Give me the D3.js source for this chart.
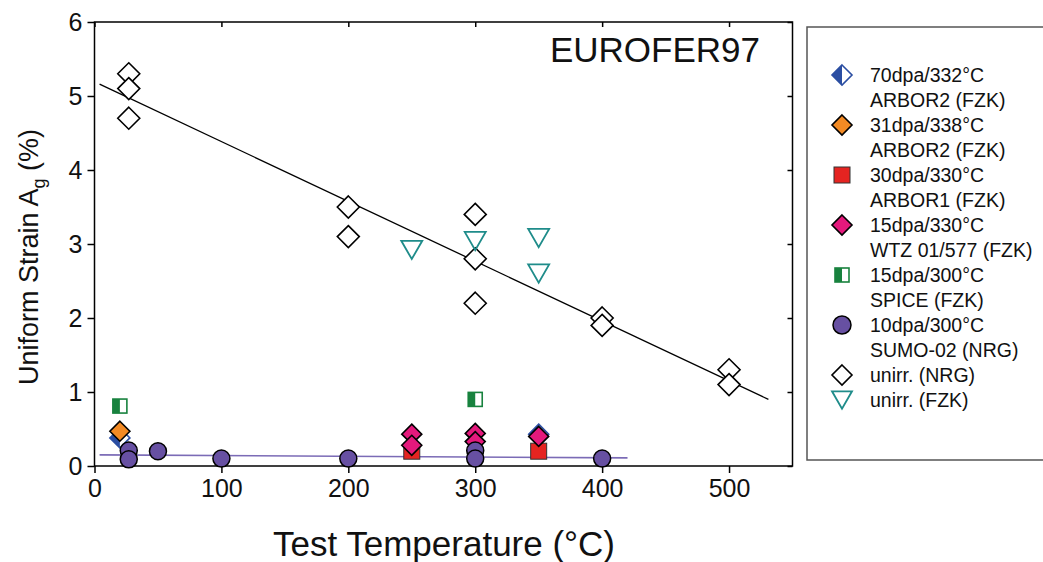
<!DOCTYPE html>
<html><head><meta charset="utf-8">
<script src="https://cdn.jsdelivr.net/npm/d3@7"></script>
<style>body{margin:0;background:#fff}svg{display:block}text{font-family:"Liberation Sans",Arial,sans-serif}</style>
</head><body><svg id="c" width="1043" height="562"></svg>
<script>
// ---- data ----
const xTicks = [0,100,200,300,400,500];
const yTicks = [0,1,2,3,4,5,6];
const nrgT = [27,27,27,200,200,300,300,300,400,400,500,500];
const nrgV = [5.3,5.1,4.7,3.5,3.1,3.4,2.8,2.2,2.0,1.9,1.3,1.1];
const fzkT = [250,300,350,350];
const fzkV = [2.92,3.04,3.08,2.6];
const blueT = [20,350];
const blueV = [0.38,0.43];
const orangeT = [20];
const orangeV = [0.47];
const redT = [250,350];
const redV = [0.2,0.2];
const pinkT = [250,250,300,300,350];
const pinkV = [0.43,0.28,0.44,0.33,0.40];
const greenT = [20,300];
const greenV = [0.81,0.9];
const purpleT = [27,27,50,100,200,300,300,400];
const purpleV = [0.21,0.09,0.2,0.1,0.1,0.21,0.1,0.1];
const fitT = [4,531];
const fitV = [5.16,0.9];
const fitPT = [4,420];
const fitPV = [0.15,0.11];
const legendLabels = [
  ["70dpa/332°C","ARBOR2 (FZK)"],
  ["31dpa/338°C","ARBOR2 (FZK)"],
  ["30dpa/330°C","ARBOR1 (FZK)"],
  ["15dpa/330°C","WTZ 01/577 (FZK)"],
  ["15dpa/300°C","SPICE (FZK)"],
  ["10dpa/300°C","SUMO-02 (NRG)"],
  ["unirr. (NRG)"],
  ["unirr. (FZK)"]
];
const C = {blue:"#2b4ea2",orange:"#f28a24",red:"#e52421",pink:"#e4197c",green:"#18823e",purple:"#6750a2",teal:"#1f8c8a",pline:"#7b6bb6"};

const svg = d3.select("#c");
const L=94.5, R=792.5, T=22, B=466;
const x = d3.scaleLinear().domain([0,550]).range([L,R]);
const y = d3.scaleLinear().domain([0,6]).range([B,T]);

// axes
const ax = svg.append("g").attr("transform",`translate(0,${B})`)
  .call(d3.axisBottom(x).tickValues(xTicks).tickFormat(d3.format("d")).tickSize(7).tickPadding(6).tickSizeOuter(0));
const ay = svg.append("g").attr("transform",`translate(${L},0)`)
  .call(d3.axisLeft(y).tickValues(yTicks).tickFormat(d3.format("d")).tickSize(7).tickPadding(5).tickSizeOuter(0));
const axT = svg.append("g").attr("transform",`translate(0,${T})`)
  .call(d3.axisBottom(x).tickValues(xTicks).tickSize(5).tickFormat("").tickSizeOuter(0));
const ayR = svg.append("g").attr("transform",`translate(${R},0)`)
  .call(d3.axisLeft(y).tickValues(yTicks).tickSize(5).tickFormat("").tickSizeOuter(0));
[ax,ay,axT,ayR].forEach(g=>{g.select(".domain").remove();g.selectAll("line").attr("stroke","#000").attr("stroke-width",1.5);});
ax.selectAll("text").attr("font-size",25).attr("fill","#111");
ay.selectAll("text").attr("font-size",25).attr("fill","#111");
svg.append("rect").attr("x",L).attr("y",T).attr("width",R-L).attr("height",B-T).attr("fill","none").attr("stroke","#000").attr("stroke-width",1.5);

// titles
svg.append("text").attr("x",444).attr("y",556).attr("text-anchor","middle").attr("font-size",35).attr("fill","#111").text("Test Temperature (°C)");
const yl = svg.append("text").attr("transform",`translate(38,${(T+B)/2+13}) rotate(-90)`).attr("text-anchor","middle").attr("font-size",27).attr("fill","#111");
yl.append("tspan").text("Uniform Strain A");
yl.append("tspan").attr("font-size",18).attr("dy",7).text("g");
yl.append("tspan").attr("dy",-7).text(" (%)");
svg.append("text").attr("x",760).attr("y",62).attr("text-anchor","end").attr("font-size",35).attr("fill","#111").text("EUROFER97");

// fit lines
const line = d3.line().x(d=>x(d[0])).y(d=>y(d[1]));
svg.append("path").attr("d",line(d3.zip(fitT,fitV))).attr("stroke","#000").attr("stroke-width",1.3).attr("fill","none");
svg.append("path").attr("d",line(d3.zip(fitPT,fitPV))).attr("stroke",C.pline).attr("stroke-width",1.6).attr("fill","none");

// marker helpers
function diamond(g,cx,cy,fill,stroke,s){
  g.append("path").attr("d",`M${cx},${cy-s}L${cx+s},${cy}L${cx},${cy+s}L${cx-s},${cy}Z`).attr("fill",fill).attr("stroke",stroke).attr("stroke-width",1.6);
}
function halfDiamond(g,cx,cy,col,s){
  g.append("path").attr("d",`M${cx},${cy-s}L${cx+s},${cy}L${cx},${cy+s}Z`).attr("fill","#fff");
  g.append("path").attr("d",`M${cx},${cy-s}L${cx-s},${cy}L${cx},${cy+s}Z`).attr("fill",col);
  g.append("path").attr("d",`M${cx},${cy-s}L${cx+s},${cy}L${cx},${cy+s}L${cx-s},${cy}Z`).attr("fill","none").attr("stroke",col).attr("stroke-width",1.6);
}
function square(g,cx,cy,fill,s){
  g.append("rect").attr("x",cx-s).attr("y",cy-s).attr("width",2*s).attr("height",2*s).attr("fill",fill).attr("stroke","#333").attr("stroke-width",1);
}
function halfSquare(g,cx,cy,col,s){
  g.append("rect").attr("x",cx-s).attr("y",cy-s).attr("width",2*s).attr("height",2*s).attr("fill","#fff").attr("stroke",col).attr("stroke-width",1.6);
  g.append("rect").attr("x",cx-s).attr("y",cy-s).attr("width",s).attr("height",2*s).attr("fill",col);
}
function circle(g,cx,cy,col,r){
  g.append("circle").attr("cx",cx).attr("cy",cy).attr("r",r).attr("fill",col).attr("stroke","#000").attr("stroke-width",1.5);
}
function tri(g,cx,cy,col,w){
  const h=w*0.87;
  g.append("path").attr("d",`M${cx-w/2},${cy-h/2}L${cx+w/2},${cy-h/2}L${cx},${cy+h/2}Z`).attr("fill","none").attr("stroke",col).attr("stroke-width",1.8);
}

const P = svg.append("g");
nrgT.forEach((t,i)=>diamond(P,x(t),y(nrgV[i]),"#fff","#000",11));
fzkT.forEach((t,i)=>tri(P,x(t),y(fzkV[i]),C.teal,21));
blueT.forEach((t,i)=>halfDiamond(P,x(t),y(blueV[i]),C.blue,10));
orangeT.forEach((t,i)=>diamond(P,x(t),y(orangeV[i]),C.orange,"#000",10));
redT.forEach((t,i)=>square(P,x(t),y(redV[i]),C.red,8));
pinkT.forEach((t,i)=>diamond(P,x(t),y(pinkV[i]),C.pink,"#000",10));
greenT.forEach((t,i)=>halfSquare(P,x(t),y(greenV[i]),C.green,7));
purpleT.forEach((t,i)=>circle(P,x(t),y(purpleV[i]),C.purple,8.5));

// legend
svg.append("rect").attr("x",807).attr("y",27).attr("width",250).attr("height",433).attr("fill","#fff").attr("stroke","#555").attr("stroke-width",1.5);
const LG = svg.append("g");
const lx=842, tx=870, y0=82, step=50;
const drawers = [
  (cx,cy)=>halfDiamond(LG,cx,cy,C.blue,10),
  (cx,cy)=>diamond(LG,cx,cy,C.orange,"#000",10),
  (cx,cy)=>square(LG,cx,cy,C.red,8),
  (cx,cy)=>diamond(LG,cx,cy,C.pink,"#000",10),
  (cx,cy)=>halfSquare(LG,cx,cy,C.green,7),
  (cx,cy)=>circle(LG,cx,cy,C.purple,9),
  (cx,cy)=>diamond(LG,cx,cy,"#fff","#000",10),
  (cx,cy)=>tri(LG,cx,cy,C.teal,20)
];
legendLabels.forEach((lab,i)=>{
  const by = i<7 ? y0+i*step : y0+6*step+25;
  drawers[i](lx, by-7);
  lab.forEach((s,j)=>LG.append("text").attr("x",tx).attr("y",by+j*25).attr("font-size",19.5).attr("fill","#111").text(s));
});
</script></body></html>
